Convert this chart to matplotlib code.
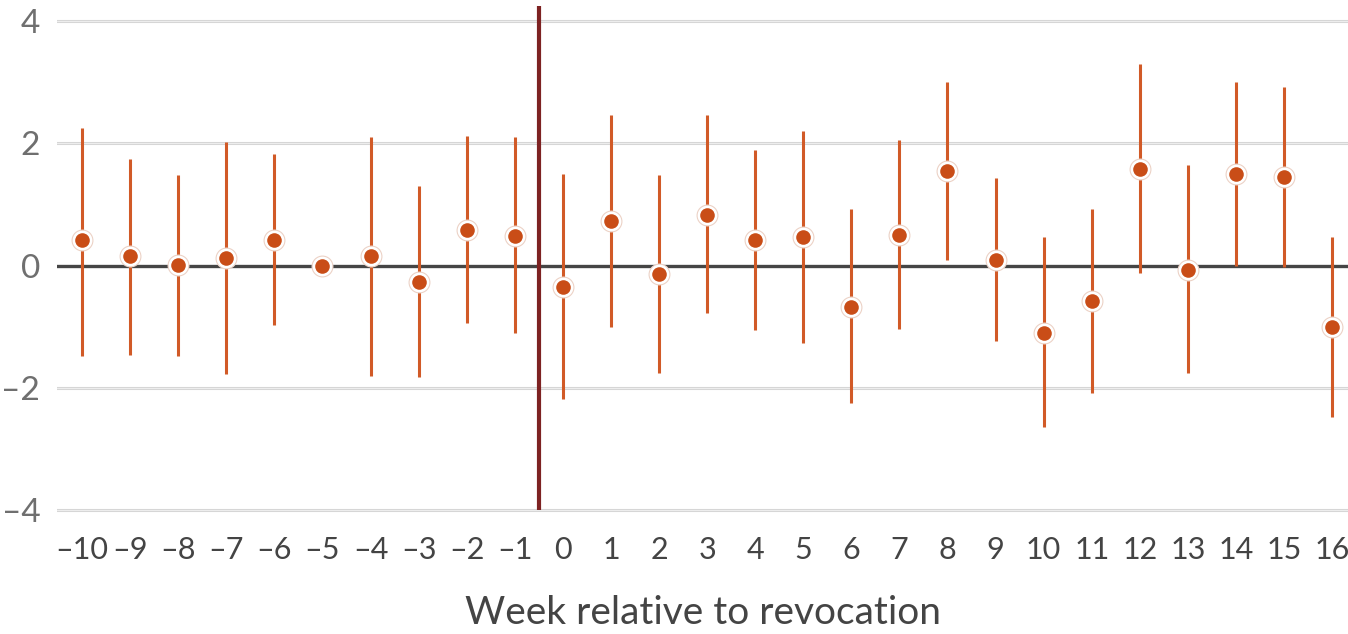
import numpy as np
import matplotlib.pyplot as plt

# weekly event-study estimates
weeks = list(range(-10, 17))
estimate = [0.41, 0.16, 0.01, 0.12, 0.42, 0.0, 0.16, -0.27, 0.58, 0.49,
            -0.36, 0.73, -0.14, 0.83, 0.42, 0.47, -0.68, 0.50, 1.55, 0.09,
            -1.11, -0.58, 1.58, -0.07, 1.50, 1.45, -1.01]
ci_upper = [2.26, 1.75, 1.49, 2.02, 1.82, np.nan, 2.11, 1.30, 2.13, 2.10,
            1.50, 2.46, 1.49, 2.46, 1.89, 2.21, 0.92, 2.05, 3.00, 1.43,
            0.46, 0.92, 3.30, 1.65, 3.01, 2.93, 0.46]
ci_lower = [-1.48, -1.47, -1.48, -1.78, -0.98, np.nan, -1.81, -1.83, -0.95, -1.10,
            -2.19, -1.00, -1.77, -0.78, -1.06, -1.27, -2.26, -1.04, 0.09, -1.24,
            -2.65, -2.09, -0.12, -1.77, 0.0, -0.03, -2.48]
y_ticks = [-4, -2, 0, 2, 4]
x_tick_labels = [str(w).replace('-', '\u2013') for w in weeks]
y_tick_labels = [str(v).replace('-', '\u2013') for v in y_ticks]
revocation_week = -0.5

plt.rcParams['font.family'] = ['Lato', 'DejaVu Sans']

fig = plt.figure(figsize=(13.48, 6.34), dpi=100)
ax = fig.add_axes([0.0423, 0.1915, 0.9577, 0.8083])

# gridlines
for v in y_ticks:
    if v != 0:
        ax.axhline(v, color='#d6d6d6', lw=2.2, zorder=0)
        ax.axhline(v, color='#f2f2f2', lw=0.6, zorder=0)
ax.axhline(0, color='#454545', lw=2.4, zorder=1)

# revocation marker
ax.vlines(revocation_week, -4, 4.25, color='#7d2222', lw=3, zorder=2)

# confidence intervals
ax.vlines(weeks, ci_lower, ci_upper, color='#d15a27', lw=2.2, zorder=3)

# point estimates with halo
ax.plot(weeks, estimate, 'o', ms=15, mfc='white', mec='#ecd2c6', mew=0.8, zorder=4)
ax.plot(weeks, estimate, 'o', ms=10.5, mfc='#c94d17', mec='#c94d17', mew=0, zorder=5)

ax.set_xlim(-10.52, 16.33)
ax.set_ylim(-4.05, 4.35)
ax.set_xticks(weeks)
ax.set_xticklabels(x_tick_labels, fontsize=22, color='#444444')
ax.set_yticks(y_ticks)
ax.set_yticklabels(y_tick_labels, fontsize=24, color='#6f6f6f')
ax.tick_params(length=0, axis='x', pad=17)
ax.tick_params(length=0, axis='y', pad=12)
for s in ax.spines.values():
    s.set_visible(False)

ax.set_xlabel("Week relative to revocation", fontsize=28, color='#444444', labelpad=22)

plt.savefig('out.png', dpi=100)
